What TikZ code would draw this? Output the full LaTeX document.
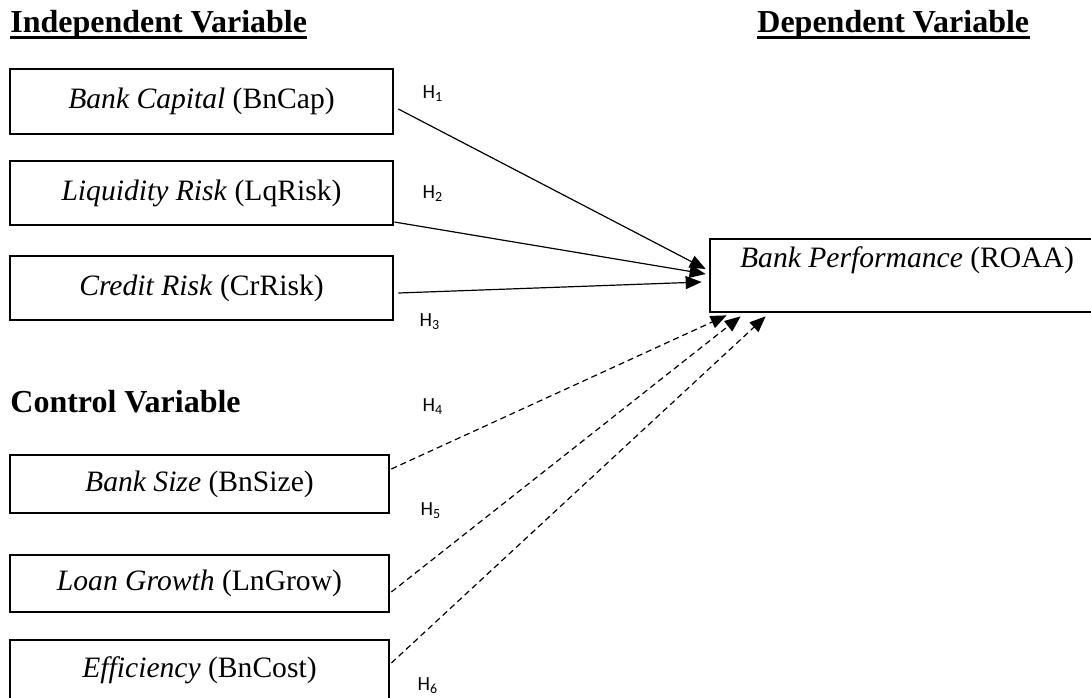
\documentclass[tikz,border=0pt]{standalone}
\usepackage{fontspec}
\setmainfont{Liberation Serif}
\newfontfamily\hfont{Carlito}
\usetikzlibrary{arrows.meta,calc}
\begin{document}
\begin{tikzpicture}[x=0.5pt,y=-0.5pt,
  box/.style={draw,line width=1.35pt,minimum width=191.5pt,inner sep=0pt,font=\fontsize{14.8}{17}\selectfont},
  head/.style={anchor=base west,inner sep=0pt,font=\fontsize{16}{19}\selectfont\bfseries},
  hlab/.style={inner sep=0pt,font=\hfont\fontsize{10}{11}\selectfont},
  arr/.style={line width=0.6pt,-{Triangle[length=8pt,width=6.5pt]}},
  darr/.style={arr,dash pattern=on 3pt off 2pt}]
\useasboundingbox (0,0) rectangle (1091,697);
% headings
\node[head] (hi) at (10,32) {Independent Variable};
\node[head] (hd) at (757,32) {Dependent Variable};
\node[head] (hc) at (10,412) {Control Variable};
\draw[line width=1.5pt] ($(hi.base west)+(0,5)$) -- ($(hi.base east)+(0,5)$);
\draw[line width=1.5pt] ($(hd.base west)+(0,5)$) -- ($(hd.base east)+(0,5)$);
% independent boxes
\node[box,minimum height=32.5pt] (b1) at (201.5,101.5) {\textit{Bank Capital} (BnCap)};
\node[box,minimum height=32pt] (b2) at (201.5,193) {\textit{Liquidity Risk} (LqRisk)};
\node[box,minimum height=32pt] (b3) at (201.5,288) {\textit{Credit Risk} (CrRisk)};
% control boxes
\node[box,minimum width=189.5pt,minimum height=29pt] (b4) at (199.5,484) {\textit{Bank Size} (BnSize)};
\node[box,minimum width=189.5pt,minimum height=28.5pt] (b5) at (199.5,583.5) {\textit{Loan Growth} (LnGrow)};
\node[box,minimum width=189.5pt,minimum height=30pt] (b6) at (199.5,670) {\textit{Efficiency} (BnCost)};
% dependent box
\node[box,minimum width=197pt,minimum height=36.5pt] (dv) at (907,275.5) {};
\node[inner sep=0pt,font=\fontsize{14.8}{17}\selectfont] (dvt) at (907,260) {\textit{Bank Performance} (ROAA)};
% arrow end points
\coordinate (t1) at ($(dv.west)+(-3,-6.5)$);
\coordinate (t2) at ($(dv.west)+(-3,-1.5)$);
\coordinate (t3) at ($(dv.west)+(-7,6.5)$);
\coordinate (t4) at ($(dv.south west)+(18,2)$);
\coordinate (t5) at ($(dv.south west)+(32,3)$);
\coordinate (t6) at ($(dv.south west)+(57,3)$);
% connectors
\draw[arr] ($(b1.east)+(4,7.5)$) -- (t1);
\draw[arr] ($(b2.east)+(0,29)$) -- (t2);
\draw[arr] ($(b3.east)+(4,5)$) -- (t3);
\draw[darr] ($(b4.east)+(1,-15)$) -- (t4);
\draw[darr] ($(b5.east)+(1,8.5)$) -- (t5);
\draw[darr] ($(b6.east)+(1,-7)$) -- (t6);
% labels
\node[hlab] (h1) at (433,94) {H\textsubscript{1}};
\node[hlab] (h2) at (433,194) {H\textsubscript{2}};
\node[hlab] (h3) at (430,322) {H\textsubscript{3}};
\node[hlab] (h4) at (433,407) {H\textsubscript{4}};
\node[hlab] (h5) at (431,511) {H\textsubscript{5}};
\node[hlab] (h6) at (428,686) {H\textsubscript{6}};
\end{tikzpicture}
\end{document}
